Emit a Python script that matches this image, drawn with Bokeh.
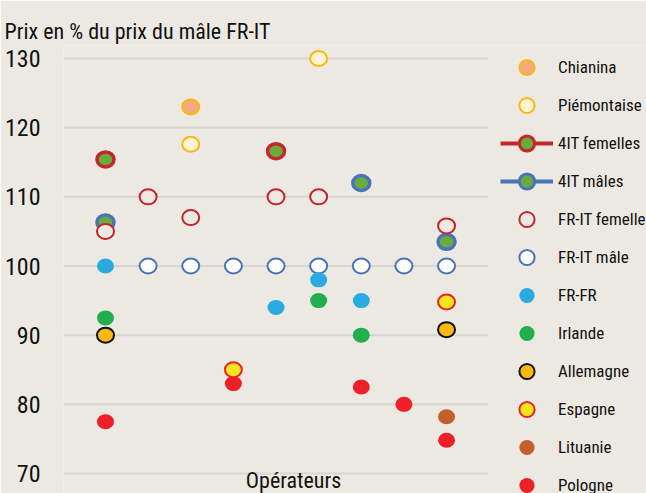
import numpy as np
from bokeh.plotting import figure
from bokeh.models import (ColumnDataSource, Range1d, FixedTicker, Legend,
                          LegendItem, Label)
from bokeh.embed import file_html
from bokeh.resources import INLINE

N = None
operators = [1, 2, 3, 4, 5, 6, 7, 8, 9]
chianina = [N, N, 123.0, N, N, N, N, N, N]
piemontaise = [N, N, 117.6, N, N, 130.0, N, N, N]
it4_femelles = [115.4, N, N, N, 116.6, N, N, N, N]
it4_males = [106.3, N, N, N, N, N, 112.0, N, 103.5]
frit_femelle = [105.0, 110.0, 107.0, N, 110.0, 110.0, N, N, 105.8]
frit_male = [N, 100.0, 100.0, 100.0, 100.0, 100.0, 100.0, 100.0, 100.0]
fr_fr = [100.0, N, N, N, 94.0, 98.0, 95.0, N, N]
irlande = [92.5, N, N, N, N, 95.0, 90.0, N, N]
allemagne = [90.0, N, N, N, N, N, N, N, 90.8]
espagne = [N, N, N, 85.0, N, N, N, N, 94.8]
lituanie = [N, N, N, N, N, N, N, N, 78.2]
pologne = [77.5, N, N, 83.0, N, N, 82.5, 80.0, 74.8]
y_ticks = [70, 80, 90, 100, 110, 120, 130]

title_text = "Prix en % du prix du mâle FR-IT"
x_title = "Opérateurs"

FONT = "Roboto Condensed"
TXT = "#111111"
BG = "#ECE9E2"
GRID = "#D9D6D0"
RED_RING = "#C5262C"
BLUE = "#4A73B8"
GREEN_IN = "#6AAB3E"

X0, X1 = 0.015, 13.69
Y0, Y1 = 67.11, 131.88

p = figure(width=646, height=493, output_backend="svg", toolbar_location=None,
           x_range=Range1d(X0, X1), y_range=Range1d(Y0, Y1),
           x_axis_location=None, y_axis_location="left",
           min_border_left=63, min_border_right=0, min_border_top=45,
           min_border_bottom=0)
p.background_fill_color = BG
p.border_fill_color = BG
p.outline_line_color = None
p.xgrid.visible = False
p.ygrid.visible = False

p.title.text = title_text
p.title.align = "left"
p.title.offset = -59
p.title.standoff = 3
p.title.text_font = FONT
p.title.text_font_style = "normal"
p.title.text_font_size = "22px"
p.title.text_color = TXT

ax = p.yaxis[0]
ax.ticker = FixedTicker(ticks=y_ticks)
ax.axis_line_color = None
ax.major_tick_line_color = None
ax.minor_tick_line_color = None
ax.major_tick_out = 0
ax.major_tick_in = 0
ax.major_label_standoff = 23
ax.major_label_text_font = FONT
ax.major_label_text_font_size = "24px"
ax.major_label_text_color = TXT

p.segment(x0=[X0] * len(y_ticks), x1=[9.985] * len(y_ticks), y0=y_ticks, y1=y_ticks,
          line_color=GRID, line_width=2)

series = [
    ("FR-IT mâle", frit_male, "white", BLUE, 2, None),
    ("FR-FR", fr_fr, "#2AAAE1", None, 0, None),
    ("Irlande", irlande, "#21AE4E", None, 0, None),
    ("Allemagne", allemagne, "#FBB813", "#111111", 2, None),
    ("Pologne", pologne, "#EE2027", None, 0, None),
    ("Espagne", espagne, "#F4E51C", "#EE2128", 2, None),
    ("Lituanie", lituanie, "#C2602B", None, 0, None),
    ("4IT mâles", it4_males, GREEN_IN, BLUE, 3.5, BLUE),
    ("FR-IT femelle", frit_femelle, BG, RED_RING, 2, None),
    ("4IT femelles", it4_femelles, GREEN_IN, RED_RING, 3.5, RED_RING),
    ("Chianina", chianina, "#F1AB7F", "#FBB813", 2, None),
    ("Piémontaise", piemontaise, "#FFF4CF", "#FBB813", 2, None),
]

legend_order = ["Chianina", "Piémontaise", "4IT femelles", "4IT mâles",
                "FR-IT femelle", "FR-IT mâle", "FR-FR", "Irlande", "Allemagne",
                "Espagne", "Lituanie", "Pologne"]

items = {}
for name, vals, fill, line, lw, legline in series:
    y = np.array([np.nan if v is None else v for v in vals], dtype=float)
    src = ColumnDataSource(dict(x=operators, y=y))
    kw = dict(fill_color=fill)
    if line is None:
        kw["line_color"] = None
    else:
        kw["line_color"] = line
        kw["line_width"] = lw
    rends = []
    if legline is not None:
        # zero-length segments: invisible in the plot, a line in the legend
        rends.append(p.segment(x0="x", y0="y", x1="x", y1="y", source=src,
                               line_color=legline, line_width=4,
                               line_cap="butt"))
    skw = dict(kw)
    if line is not None and lw > 2:
        skw["line_width"] = 3
    # small marker (hidden below the ellipse) that supplies the legend glyph
    rends.append(p.scatter(x="x", y="y", source=src, marker="circle", size=12,
                           **skw))
    p.ellipse(x="x", y="y", width=17, height=15, width_units="screen",
              height_units="screen", source=src, **kw)
    items[name] = LegendItem(label=name, renderers=rends)

legend = Legend(items=[items[n] for n in legend_order],
                location=(437, -11), padding=0, margin=0, spacing=0,
                glyph_width=53, glyph_height=38, label_height=38,
                label_standoff=5, border_line_color=None,
                background_fill_alpha=0, label_text_font=FONT,
                label_text_font_size="17px", label_text_color=TXT)
p.add_layout(legend)

p.add_layout(Label(x=5.41, y=68.99, text=x_title, text_font=FONT,
                   text_font_size="22px", text_color=TXT,
                   text_baseline="middle", text_align="center"))

open("out.html", "w").write(file_html(p, INLINE))
